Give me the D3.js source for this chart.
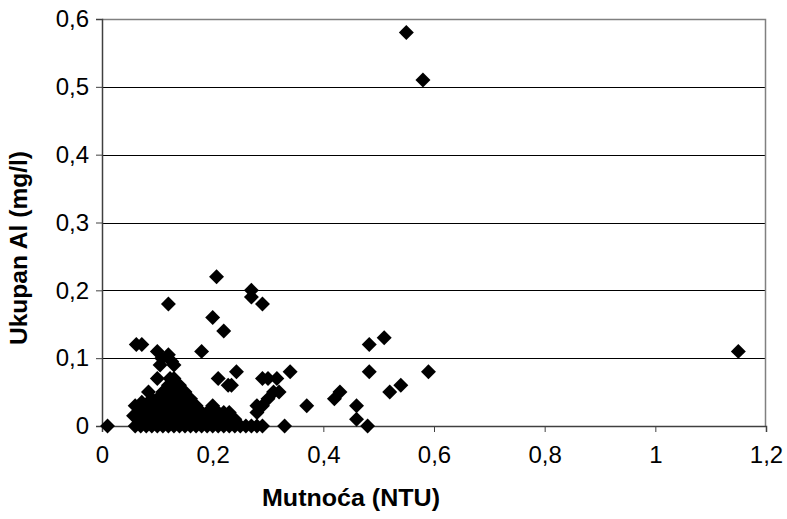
<!DOCTYPE html>
<html>
<head>
<meta charset="utf-8">
<script src="https://cdn.jsdelivr.net/npm/d3@7"></script>
<style>
  html, body { margin: 0; padding: 0; background: #fff; }
  svg { display: block; font-family: "Liberation Sans", Arial, sans-serif; }
</style>
</head>
<body>
<svg id="chart" width="787" height="519"></svg>
<script>
// Turbidity (NTU) of each sample
const turbidity = [
  0.01, 0.55, 0.58, 1.15, 0.207, 0.27, 0.27, 0.29, 0.12, 0.20, 0.22,
  0.062, 0.072, 0.18, 0.483, 0.51, 0.483, 0.59, 0.34, 0.54, 0.52,
  0.43, 0.42, 0.37, 0.46, 0.46, 0.48, 0.33, 0.243, 0.234, 0.29,
  0.30, 0.316, 0.32, 0.31, 0.30, 0.29, 0.28, 0.28, 0.21, 0.228,
  0.23, 0.22, 0.20, 0.10, 0.108, 0.105, 0.10, 0.084, 0.072, 0.06,
  0.057, 0.12, 0.126, 0.13, 0.123, 0.13, 0.14, 0.15, 0.16, 0.17,
  0.18, 0.19,
  // dense low-aluminium cluster
  0.12,
  0.11, 0.12, 0.13,
  0.09, 0.10, 0.11, 0.12, 0.13, 0.14, 0.15,
  0.08, 0.09, 0.10, 0.11, 0.12, 0.13, 0.14, 0.15, 0.16,
  0.07, 0.08, 0.09, 0.10, 0.11, 0.12, 0.13, 0.14, 0.15, 0.16, 0.17, 0.18, 0.20, 0.21,
  0.07, 0.08, 0.09, 0.10, 0.11, 0.12, 0.13, 0.14, 0.15, 0.16, 0.17, 0.18, 0.19, 0.20, 0.21, 0.22, 0.24,
  0.06, 0.07, 0.08, 0.09, 0.10, 0.11, 0.12, 0.13, 0.14, 0.15, 0.16, 0.17, 0.18, 0.19, 0.20, 0.21, 0.22, 0.23, 0.24, 0.25, 0.26, 0.27, 0.28, 0.29
];

// Total aluminium (mg/l) of each sample
const aluminium = [
  0, 0.58, 0.51, 0.11, 0.22, 0.20, 0.19, 0.18, 0.18, 0.16, 0.14,
  0.12, 0.12, 0.11, 0.12, 0.13, 0.08, 0.08, 0.08, 0.06, 0.05,
  0.05, 0.04, 0.03, 0.03, 0.01, 0, 0, 0.08, 0.06, 0.07,
  0.07, 0.07, 0.05, 0.05, 0.04, 0.03, 0.03, 0.02, 0.07, 0.06,
  0.02, 0.02, 0.03, 0.11, 0.10, 0.09, 0.07, 0.05, 0.035, 0.03,
  0.015, 0.105, 0.095, 0.09, 0.07, 0.07, 0.06, 0.05, 0.04, 0.03,
  0.02, 0.02,
  0.06,
  0.05, 0.05, 0.05,
  0.04, 0.04, 0.04, 0.04, 0.04, 0.04, 0.04,
  0.03, 0.03, 0.03, 0.03, 0.03, 0.03, 0.03, 0.03, 0.03,
  0.02, 0.02, 0.02, 0.02, 0.02, 0.02, 0.02, 0.02, 0.02, 0.02, 0.02, 0.02, 0.02, 0.02,
  0.01, 0.01, 0.01, 0.01, 0.01, 0.01, 0.01, 0.01, 0.01, 0.01, 0.01, 0.01, 0.01, 0.01, 0.01, 0.01, 0.01,
  0, 0, 0, 0, 0, 0, 0, 0, 0, 0, 0, 0, 0, 0, 0, 0, 0, 0, 0, 0, 0, 0, 0, 0
];

const xTicks = [0, 0.2, 0.4, 0.6, 0.8, 1, 1.2];
const yTicks = [0, 0.1, 0.2, 0.3, 0.4, 0.5, 0.6];
const xTitle = "Mutnoća (NTU)";
const yTitle = "Ukupan Al (mg/l)";

const W = 787, H = 519;
const margin = { top: 19, right: 21, bottom: 93, left: 102 };
const iw = W - margin.left - margin.right;
const ih = H - margin.top - margin.bottom;

const fmt = v => String(v).replace(".", ",");

const svg = d3.select("#chart");
const g = svg.append("g").attr("transform", `translate(${margin.left},${margin.top})`);

const x = d3.scaleLinear().domain([0, 1.2]).range([0, iw]);
const y = d3.scaleLinear().domain([0, 0.6]).range([ih, 0]);

// horizontal gridlines
g.append("g").selectAll("line")
  .data(yTicks.filter(v => v > 0 && v < 0.6))
  .join("line")
  .attr("x1", 0).attr("x2", iw)
  .attr("y1", d => Math.round(y(d)) + 0.5).attr("y2", d => Math.round(y(d)) + 0.5)
  .attr("stroke", "#000").attr("stroke-width", 1);

// plot area frame (top and right)
g.append("path")
  .attr("d", `M0,0.5H${iw - 0.5}V${ih}`)
  .attr("fill", "none").attr("stroke", "#808080").attr("stroke-width", 1.5);

// axes
const xAxis = g.append("g")
  .attr("transform", `translate(0,${ih})`)
  .call(d3.axisBottom(x).tickValues(xTicks).tickFormat(fmt).tickSize(6).tickPadding(8));
const yAxis = g.append("g")
  .call(d3.axisLeft(y).tickValues(yTicks).tickFormat(fmt).tickSize(6).tickPadding(8));

[xAxis, yAxis].forEach(a => {
  a.select(".domain").attr("stroke", "#404040").attr("stroke-width", 1.5);
  a.selectAll(".tick line").attr("stroke", "#404040");
  a.selectAll(".tick text")
    .attr("fill", "#000")
    .style("font-family", "'Liberation Sans', Arial, sans-serif")
    .style("font-size", "24px");
});
xAxis.selectAll(".tick text").attr("dy", "0.95em");
yAxis.selectAll(".tick text").attr("x", -13);

// markers: diamonds
const diamond = d3.symbol().type(d3.symbolSquare).size(112);
g.append("g").selectAll("path")
  .data(d3.range(turbidity.length))
  .join("path")
  .attr("d", diamond)
  .attr("transform", i => `translate(${x(turbidity[i])},${y(aluminium[i])}) rotate(45)`)
  .attr("fill", "#000");

// axis titles
svg.append("text")
  .attr("x", 351).attr("y", 506)
  .attr("text-anchor", "middle")
  .style("font-size", "24px").style("font-weight", "bold")
  .attr("textLength", 178).attr("lengthAdjust", "spacingAndGlyphs")
  .text(xTitle);

svg.append("text")
  .attr("transform", `translate(27,248) rotate(-90)`)
  .attr("text-anchor", "middle")
  .style("font-size", "24px").style("font-weight", "bold")
  .attr("textLength", 194).attr("lengthAdjust", "spacingAndGlyphs")
  .text(yTitle);
</script>
</body>
</html>
